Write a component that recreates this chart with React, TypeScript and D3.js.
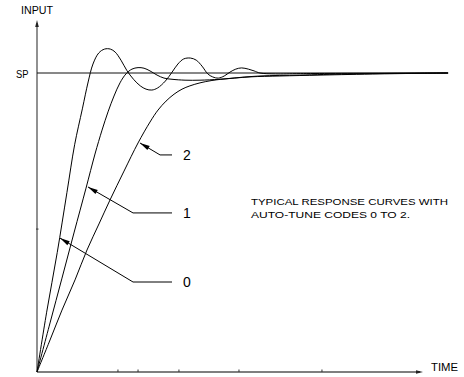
import React from "react";
import * as d3 from "d3";

// Response curves: time (arbitrary units) vs input (% of set point)
const curve0: [number, number][] = [
  [0, 0], [1, 20], [2.1, 40], [3.1, 60], [3.9, 76], [4.7, 88], [5.3, 97], [5.8, 103],
  [6.4, 106.7], [7.0, 108], [7.6, 108], [8.1, 107], [8.7, 104.3], [9.3, 100.9], [10, 97.9],
  [10.7, 95.7], [11.3, 94.6], [11.9, 94.3], [12.5, 95], [13.3, 97.3], [14, 100.3], [14.6, 103],
  [15.2, 104.7], [15.9, 105], [16.5, 104.3], [17.1, 102.3], [17.7, 99.7], [18.2, 98.7],
  [18.8, 98.3], [19.4, 99], [20, 100.3], [20.6, 101.3], [21.2, 101.7], [21.9, 101.3],
  [22.5, 100.7], [23.1, 100], [24.7, 99.7], [27.3, 99.8], [42.6, 100],
];
const curve1: [number, number][] = [
  [0, 0], [1.35, 16.4], [2.59, 31.4], [3.83, 46.5], [5.08, 61.5], [6.01, 72.9], [6.74, 80.9],
  [7.36, 87], [7.98, 92.3], [8.6, 96.7], [9.22, 99.7], [9.84, 101.3], [10.47, 101.8],
  [11.09, 101.6], [11.71, 100.7], [12.44, 99.3], [13.16, 98.3], [13.99, 97.9], [15.34, 97.6],
  [16.89, 97.6], [18.96, 97.9], [22.07, 98.7], [25.18, 99], [29.33, 99.3], [35.54, 99.7], [42.6, 100],
];
const curve2: [number, number][] = [
  [0, 0], [1.35, 10.7], [2.59, 20.7], [3.94, 30.8], [5.18, 40.8], [6.42, 49.5], [7.56, 57.5],
  [9.02, 67.2], [10.47, 76.6], [11.71, 83.6], [12.54, 87.6], [13.37, 90.6], [14.2, 92.9],
  [15.03, 94.6], [15.85, 95.7], [16.89, 96.7], [18.13, 97.5], [20, 98.2], [23.11, 99], [27.25, 99.3],
  [32.44, 99.7], [42.6, 100],
];
const curves = [curve0, curve1, curve2];

const setPoint = 100;
const xTicks = [8.39, 10.47, 14.71, 20.93, 29.53];
const yTicks = [47.8];

// Leader annotations: tip on curve, elbow, end of horizontal, label
const leaderLabels = ["2", "1", "0"];
const leaderTips: [number, number][] = [[10.67, 76.6], [5.28, 61.9], [2.38, 44.8]];
const leaderElbows: [number, number][] = [[12.75, 72.6], [9.95, 53.2], [9.95, 30.1]];
const leaderEndT = 13.99;

const noteLines = ["TYPICAL RESPONSE CURVES WITH", "AUTO-TUNE CODES 0 TO 2."];

const W = 464;
const H = 377;

export default function App() {
  const x = d3.scaleLinear().domain([0, 40]).range([37, 423]);
  const y = d3.scaleLinear().domain([0, 100]).range([372, 73]);

  const line = d3
    .line<[number, number]>()
    .x((d) => x(d[0]))
    .y((d) => y(d[1]))
    .curve(d3.curveCatmullRom.alpha(0.5));

  const x0 = x(0);
  const y0 = y(0);
  const yTop = y(117.7);
  const xEnd = x(40);
  const font = "Arial, 'Liberation Sans', Helvetica, sans-serif";
  const axisColor = "#555";

  const arrowHead = (tx: number, ty: number, fx: number, fy: number, len: number, hw: number) => {
    const dx = fx - tx;
    const dy = fy - ty;
    const L = Math.hypot(dx, dy);
    const ux = dx / L;
    const uy = dy / L;
    const bx = tx + ux * len;
    const by = ty + uy * len;
    const px = -uy * hw;
    const py = ux * hw;
    return `${tx},${ty} ${bx + px},${by + py} ${bx - px},${by - py}`;
  };

  return (
    <svg
      width={W}
      height={H}
      style={{ position: "absolute", left: 0, top: 0, background: "#fff" }}
      fontFamily={font}
    >
      <rect width={W} height={H} fill="#fff" />
      {/* axes */}
      <line x1={x0} y1={y0} x2={x0} y2={yTop + 3} stroke={axisColor} strokeWidth={1.3} />
      <polygon points={arrowHead(x0, yTop, x0, yTop + 10, 7, 1.8)} fill="#222" />
      <line x1={x0} y1={y0} x2={xEnd - 3} y2={y0} stroke={axisColor} strokeWidth={1.3} />
      <polygon points={arrowHead(xEnd, y0, xEnd - 10, y0, 7, 1.8)} fill="#222" />
      {xTicks.map((t, i) => (
        <line key={i} x1={x(t)} x2={x(t)} y1={y0} y2={y0 - 2.5} stroke="#333" strokeWidth={1} />
      ))}
      {yTicks.map((v, i) => (
        <line key={i} x1={x0 - 1} x2={x0 + 1.5} y1={y(v)} y2={y(v)} stroke="#333" strokeWidth={1} />
      ))}
      <text x={x0} y={14} textAnchor="middle" fontSize={10} textLength={32} lengthAdjust="spacingAndGlyphs">INPUT</text>
      <text x={28.5} y={77.5} textAnchor="end" fontSize={10} textLength={12.5} lengthAdjust="spacingAndGlyphs">SP</text>
      <text x={431} y={371} fontSize={10.5} textLength={27} lengthAdjust="spacingAndGlyphs">TIME</text>

      {/* set point */}
      <line x1={x0} x2={x(42.6)} y1={y(setPoint)} y2={y(setPoint)} stroke="#111" strokeWidth={1} />

      {/* curves */}
      {curves.map((c, i) => (
        <path key={i} d={line(c) || ""} fill="none" stroke="#000" strokeWidth={1} />
      ))}

      {/* leaders */}
      {leaderLabels.map((lab, i) => {
        const tx = x(leaderTips[i][0]);
        const ty = y(leaderTips[i][1]);
        const ex = x(leaderElbows[i][0]);
        const ey = y(leaderElbows[i][1]);
        const hx = x(leaderEndT);
        return (
          <g key={lab}>
            <polyline points={`${tx},${ty} ${ex},${ey} ${hx},${ey}`} fill="none" stroke="#000" strokeWidth={1} />
            <polygon points={arrowHead(tx, ty, ex, ey, 10, 2.3)} fill="#000" />
            <text x={hx + 11} y={ey + 5} fontSize={14}>{lab}</text>
          </g>
        );
      })}

      {noteLines.map((s, i) => (
        <text
          key={i}
          x={251}
          y={205 + i * 13.3}
          fontSize={9.6}
          textLength={i === 0 ? 197 : 159}
          lengthAdjust="spacingAndGlyphs"
        >
          {s}
        </text>
      ))}
    </svg>
  );
}
